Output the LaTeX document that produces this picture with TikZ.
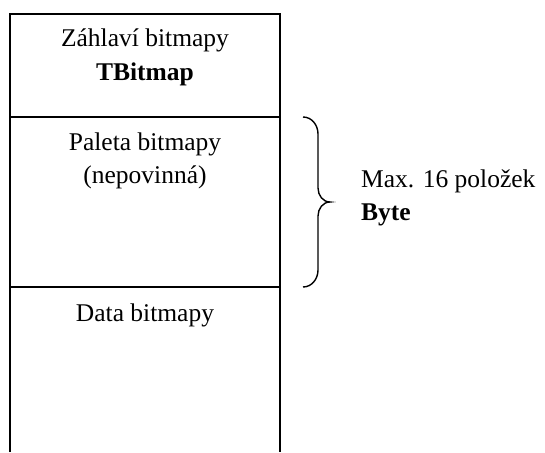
\documentclass[tikz,border=0pt]{standalone}
\usepackage{fontspec}
\setmainfont{Liberation Serif}

\tikzset{
  txt/.style={anchor=base, inner sep=0pt, font=\fontsize{25.5}{33}\selectfont},
  frame/.style={line width=1.6pt},
}

\begin{document}
\begin{tikzpicture}[x=1pt,y=-1pt]
    \useasboundingbox (0,0) rectangle (545,452);

    % column of the file
    \draw[frame](10,452)--(10,14)--(280,14)--(280,452);
    \draw[frame](10,117)--(280,117);
    \draw[frame](10,287)--(280,287);

    \node[txt](hdr)at(145,47){Záhlaví bitmapy};
    \node[txt](hdrtype)at(145,80){\textbf{TBitmap}};
    \node[txt](pal)at(145,150){Paleta bitmapy};
    \node[txt](palopt)at(145,183){(nepovinná)};
    \node[txt](data)at(145,321){Data bitmapy};

    % brace beside the palette
    \draw[line width=1.4pt](303,117)to[out=0,in=90](318,134)--(318,188)
        to[out=-90,in=180](330,202)to[out=180,in=90](318,216)--(318,270)
        to[out=-90,in=0](303,287);

    \node[txt,anchor=base west](maxn)at(361,187){Max. 16 položek};
    \node[txt,anchor=base west](maxtype)at(361,220){\textbf{Byte}};
\end{tikzpicture}
\end{document}
